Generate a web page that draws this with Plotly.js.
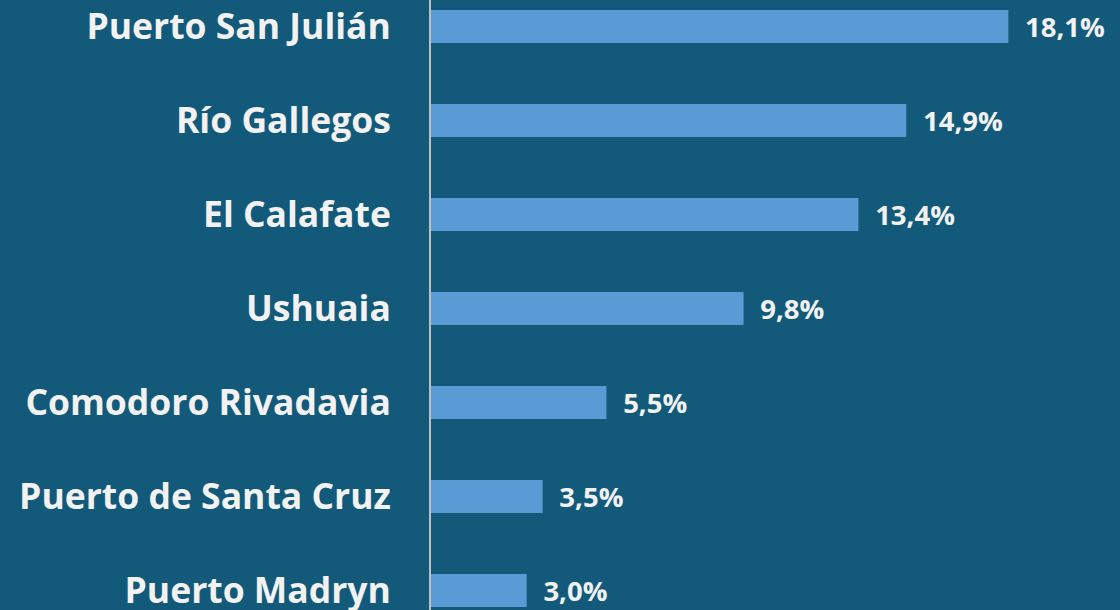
<!DOCTYPE html>
<html>
<head>
<meta charset="utf-8">
<script src="https://cdn.plot.ly/plotly-3.0.1.min.js"></script>
<style>
html,body{margin:0;padding:0;background:#135a7a;}
#chart{width:1120px;height:610px;}
</style>
</head>
<body>
<div id="chart"></div>
<script>
const categories = ["Puerto San Julián","Río Gallegos","El Calafate","Ushuaia","Comodoro Rivadavia","Puerto de Santa Cruz","Puerto Madryn"];
const values = [18.1, 14.9, 13.4, 9.8, 5.5, 3.5, 3.0];
const valueLabels = values.map(v => v.toFixed(1).replace('.', ',') + '%');

const trace = {
  type: 'bar',
  orientation: 'h',
  y: categories,
  x: values,
  text: valueLabels.map(t => '\u2009\u2009\u2009' + t),
  textposition: 'outside',
  constraintext: 'none',
  cliponaxis: false,
  textfont: {family: 'Open Sans, sans-serif', size: 27.5, color: '#f2f2f2', weight: 'bold'},
  marker: {color: '#5b9bd5'},
  width: 0.35,
  hoverinfo: 'none'
};

const layout = {
  width: 1120, height: 610,
  margin: {l: 431, r: 0, t: 0, b: 0},
  paper_bgcolor: '#135a7a',
  plot_bgcolor: '#135a7a',
  showlegend: false,
  xaxis: {range: [0, 21.6], showgrid: false, zeroline: false, showticklabels: false, showline: false, fixedrange: true},
  yaxis: {
    type: 'category',
    range: [6.207, -0.282],
    showgrid: false, zeroline: false,
    showline: true, linecolor: '#bfbfbf', linewidth: 2,
    ticks: '', ticklabelstandoff: 31,
    tickfont: {family: 'Open Sans, sans-serif', size: 35.5, color: '#f2f2f2', weight: 'bold'},
    fixedrange: true
  }
};

Plotly.newPlot('chart', [trace], layout, {displayModeBar: false, staticPlot: true});
</script>
</body>
</html>
